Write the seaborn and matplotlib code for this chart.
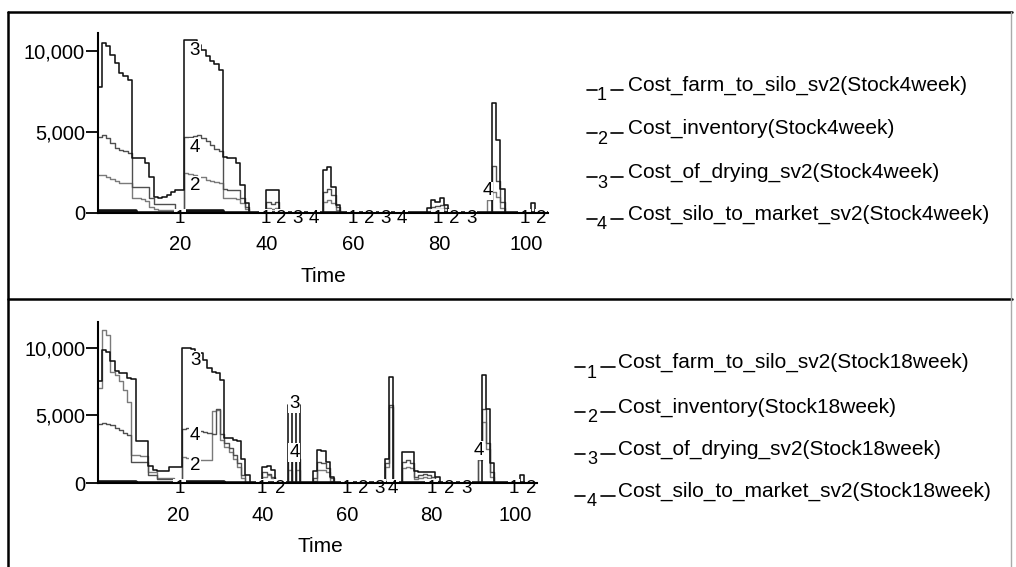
import numpy as np
import pandas as pd
import matplotlib
matplotlib.use("Agg")
import matplotlib.pyplot as plt
import seaborn as sns
from matplotlib.lines import Line2D
from matplotlib.ticker import FixedLocator, FixedFormatter

sns.set_theme(style="white")
plt.rcParams['font.family'] = ['Liberation Sans', 'DejaVu Sans']

# ---------------- data (weeks 1..105) ----------------
weeks = list(range(1, 106))

# Panel 1: Stock4week
top_farm_to_silo = [120, 120, 120, 120, 120, 120, 120, 120, 120, 0,
                    0, 0, 0, 0, 0, 0, 0, 0, 0, 0,
                    120, 120, 120, 120, 120, 120, 120, 120, 120, 0,
                    0, 0, 0, 0, 0, 0, 0, 0, 0, 0,
                    0, 0, 0, 0, 0, 0, 0, 0, 0, 0,
                    0, 0, 0, 0, 0, 0, 0, 0, 0, 0,
                    0, 0, 0, 0, 0, 0, 0, 0, 0, 0,
                    0, 0, 0, 0, 0, 0, 0, 0, 0, 0,
                    0, 0, 0, 0, 0, 0, 0, 0, 0, 0,
                    0, 0, 0, 0, 0, 0, 0, 0, 0, 0,
                    0, 0, 0, 0, 0]
top_inventory = [2350, 2350, 2250, 2100, 2000, 1850, 1830, 1830, 900, 900,
                 850, 750, 400, 250, 200, 200, 200, 200, 0, 0,
                 2450, 2400, 2350, 2250, 2200, 2050, 1950, 1900, 1850, 900,
                 900, 900, 850, 600, 250, 0, 0, 0, 0, 300,
                 250, 300, 0, 0, 0, 0, 0, 0, 0, 0,
                 0, 0, 700, 800, 600, 200, 0, 0, 0, 0,
                 0, 0, 0, 0, 0, 0, 0, 0, 0, 0,
                 0, 0, 0, 0, 0, 0, 0, 200, 250, 250,
                 150, 0, 0, 0, 0, 0, 0, 0, 0, 0,
                 800, 1300, 1000, 300, 0, 0, 0, 0, 0, 0,
                 0, 0, 0, 0, 0]
top_drying = [7800, 10500, 10300, 9750, 9240, 8620, 8420, 8200, 3400, 3400,
              3400, 3100, 2200, 1000, 900, 1000, 1100, 1300, 1400, 1400,
              10650, 10680, 10650, 10370, 10060, 9700, 9400, 9200, 8800, 3480,
              3400, 3380, 3070, 1700, 600, 0, 0, 0, 0, 1400,
              1400, 1400, 0, 0, 0, 0, 0, 0, 0, 0,
              0, 0, 2650, 2850, 1600, 500, 0, 0, 0, 0,
              0, 0, 0, 0, 0, 0, 0, 0, 0, 0,
              0, 0, 0, 0, 0, 0, 300, 800, 700, 900,
              500, 0, 0, 0, 0, 0, 0, 0, 0, 0,
              0, 6800, 4500, 1500, 0, 0, 0, 0, 0, 0,
              600, 0, 0, 0, 0]
top_silo_to_market = [4700, 4800, 4600, 4300, 4000, 3900, 3800, 3700, 1600, 1600,
                      1600, 1600, 900, 550, 550, 550, 550, 550, 0, 0,
                      4700, 4700, 4750, 4800, 4650, 4450, 4200, 3950, 3800, 1450,
                      1420, 1420, 1400, 900, 400, 0, 0, 0, 0, 650,
                      550, 650, 0, 0, 0, 0, 0, 0, 0, 0,
                      0, 0, 1300, 1500, 1100, 400, 0, 0, 0, 0,
                      0, 0, 0, 0, 0, 0, 0, 0, 0, 0,
                      0, 0, 0, 0, 0, 0, 0, 400, 450, 500,
                      300, 0, 0, 0, 0, 0, 0, 0, 0, 0,
                      0, 2900, 2000, 700, 0, 0, 0, 0, 0, 0,
                      0, 0, 0, 0, 0]

# Panel 2: Stock18week
bot_farm_to_silo = [100, 100, 100, 100, 100, 100, 100, 100, 100, 0,
                    0, 0, 0, 0, 0, 0, 0, 0, 0, 0,
                    100, 100, 100, 100, 100, 100, 100, 100, 100, 100,
                    0, 0, 0, 0, 0, 0, 0, 0, 0, 0,
                    0, 0, 0, 0, 0, 0, 0, 0, 0, 0,
                    0, 0, 0, 0, 0, 0, 0, 0, 0, 0,
                    0, 0, 0, 0, 0, 0, 0, 0, 0, 0,
                    0, 0, 0, 0, 0, 0, 0, 0, 0, 0,
                    0, 0, 0, 0, 0, 0, 0, 0, 0, 0,
                    0, 0, 0, 0, 0, 0, 0, 0, 0, 0,
                    0, 0, 0, 0, 0]
bot_inventory = [7000, 11300, 10900, 8200, 8000, 7500, 6900, 6000, 2100, 2100,
                 2000, 2000, 800, 800, 400, 400, 400, 400, 0, 0,
                 1900, 1850, 1800, 1800, 1750, 1700, 1750, 5300, 5400, 3200,
                 2700, 2300, 1800, 1200, 400, 0, 0, 0, 0, 500,
                 600, 400, 0, 0, 0, 1000, 0, 1000, 0, 0,
                 0, 200, 1000, 1000, 800, 200, 0, 0, 0, 0,
                 0, 0, 0, 0, 0, 0, 0, 0, 1200, 5600,
                 0, 0, 1100, 1200, 1100, 300, 400, 500, 400, 300,
                 100, 0, 0, 0, 0, 0, 0, 0, 0, 0,
                 1700, 4500, 2500, 500, 0, 0, 0, 0, 0, 0,
                 0, 0, 0, 0, 0]
bot_drying = [7500, 9800, 9700, 8970, 8300, 8110, 8110, 7740, 7700, 3100,
              3100, 3100, 1300, 1000, 900, 870, 870, 1230, 1230, 1230,
              9950, 9950, 9900, 9700, 9580, 9090, 8480, 8230, 8110, 7600,
              3300, 3300, 3200, 3100, 1800, 600, 0, 0, 0, 1200,
              1250, 1000, 0, 0, 0, 5800, 0, 5800, 0, 0,
              0, 900, 2450, 2400, 1600, 500, 0, 0, 0, 0,
              0, 0, 0, 0, 0, 0, 0, 0, 1800, 7800,
              0, 0, 2300, 2300, 2300, 900, 850, 850, 800, 800,
              500, 0, 0, 0, 0, 0, 0, 0, 0, 0,
              0, 8000, 5500, 1500, 0, 0, 0, 0, 0, 0,
              600, 0, 0, 0, 0]
bot_silo_to_market = [4400, 4420, 4400, 4300, 4100, 3900, 3700, 3560, 1600, 1600,
                      1600, 1600, 600, 600, 300, 300, 300, 300, 0, 0,
                      4000, 4050, 4000, 3950, 3850, 3750, 3700, 3650, 5500, 3600,
                      3000, 2600, 2100, 1500, 600, 0, 0, 0, 0, 800,
                      700, 500, 0, 0, 0, 1800, 0, 1800, 0, 0,
                      0, 400, 1600, 1500, 1100, 400, 0, 0, 0, 0,
                      0, 0, 0, 0, 0, 0, 0, 0, 1500, 5800,
                      0, 0, 1600, 1700, 1500, 500, 600, 650, 600, 500,
                      200, 0, 0, 0, 0, 0, 0, 0, 0, 0,
                      1900, 5500, 3000, 800, 0, 0, 0, 0, 0, 0,
                      0, 0, 0, 0, 0]

series_ids = ["1", "2", "3", "4"]
top_names = ["Cost_farm_to_silo_sv2(Stock4week)", "Cost_inventory(Stock4week)",
             "Cost_of_drying_sv2(Stock4week)", "Cost_silo_to_market_sv2(Stock4week)"]
bot_names = ["Cost_farm_to_silo_sv2(Stock18week)", "Cost_inventory(Stock18week)",
             "Cost_of_drying_sv2(Stock18week)", "Cost_silo_to_market_sv2(Stock18week)"]

xticks = [20, 40, 60, 80, 100]
yticks = [0, 5000, 10000]
ytick_labels = ["0", "5,000", "10,000"]

# series number labels drawn on the curves (week, value)
top_lab_ids = ["1", "2", "3", "4", "1", "2", "3", "4", "1", "2", "3", "4", "1", "2", "3", "4", "1", "2"]
top_lab_t = [20.0, 23.5, 23.5, 23.5, 39.8, 43.5, 47.2, 50.9, 60.0, 63.8, 67.4, 71.2, 79.5, 83.4, 87.3, 91.0, 99.6, 103.4]
top_lab_v = [0, 2040, 10370, 4400, 0, 0, 0, 0, 0, 0, 0, 0, 0, 0, 0, 1700, 0, 0]

bot_lab_ids = ["1", "2", "3", "4", "1", "2", "3", "4", "1", "2", "3", "4", "1", "2", "3", "4", "1", "2"]
bot_lab_t = [20.4, 24.1, 24.1, 24.1, 39.9, 44.2, 47.6, 47.6, 60.0, 63.9, 67.9, 71.0, 80.1, 84.4, 88.3, 91.4, 99.6, 103.7]
bot_lab_v = [0, 1720, 9460, 3930, 0, 0, 6265, 2650, 0, 0, 0, 0, 0, 0, 0, 2830, 0, 0]

# ---------------- styling ----------------
W, H = 1016, 567
colors = {"1": "#111111", "2": "#7a7a7a", "3": "#111111", "4": "#4f4f4f"}
widths = {"1": 2.6, "2": 1.0, "3": 1.15, "4": 1.0}
draw_order = ["2", "4", "3", "1"]

def fx(px):
    return px / W

def fy(py):
    return 1 - py / H

fig = plt.figure(figsize=(W / 100, H / 100), dpi=100)
fig.patch.set_facecolor("white")

panels = [
    dict(vals=[top_farm_to_silo, top_inventory, top_drying, top_silo_to_market], names=top_names,
         rect=(97.5, 33, 548.0, 213), ymax=11100, lab=(top_lab_ids, top_lab_t, top_lab_v),
         time_xy=(323, 277), leg_text_x=628, leg_rows=[85, 128, 172, 214], leg_dash=(587, 597, 602, 611, 623)),
    dict(vals=[bot_farm_to_silo, bot_inventory, bot_drying, bot_silo_to_market], names=bot_names,
         rect=(97.7, 321.7, 536.6, 483.3), ymax=11900, lab=(bot_lab_ids, bot_lab_t, bot_lab_v),
         time_xy=(320, 546), leg_text_x=618, leg_rows=[362, 407, 449, 491], leg_dash=(575, 585, 592, 601, 615)),
]

for p in panels:
    x0, y0, x1, y1 = p["rect"]
    ax = fig.add_axes([fx(x0), fy(y1), (x1 - x0) / W, (y1 - y0) / H])
    ax.set_facecolor("white")
    frames = []
    for sid, v in zip(series_ids, p["vals"]):
        frames.append(pd.DataFrame({"week": weeks, "cost": v, "series": sid}))
    df = pd.concat(frames, ignore_index=True)
    for sid in draw_order:
        sns.lineplot(data=df[df["series"] == sid], x="week", y="cost", ax=ax,
                     color=colors[sid], linewidth=widths[sid], drawstyle="steps-post",
                     estimator=None, legend=False, zorder=2)
    ax.set_xlim(1, 105)
    ax.set_ylim(0, p["ymax"])
    for s in ["top", "right"]:
        ax.spines[s].set_visible(False)
    for s in ["left", "bottom"]:
        ax.spines[s].set_color("black")
        ax.spines[s].set_linewidth(1.5)
        ax.spines[s].set_zorder(3)
    ax.xaxis.set_major_locator(FixedLocator(xticks))
    ax.yaxis.set_major_locator(FixedLocator(yticks))
    ax.yaxis.set_major_formatter(FixedFormatter(ytick_labels))
    ax.tick_params(axis="x", length=0, pad=16, labelsize=14.5, colors="black")
    ax.tick_params(axis="y", length=9, width=1.3, direction="out", pad=0, labelsize=14.5,
                   colors="black", left=True)
    ax.set_xlabel("")
    ax.set_ylabel("")
    ax.grid(False)
    ids, ts, vs = p["lab"]
    for sid, t, v in zip(ids, ts, vs):
        ax.annotate(sid, xy=(t, v), xytext=(0, -4), textcoords="offset points",
                    ha="center", va="center", fontsize=13.5, color="black", zorder=2.4,
                    annotation_clip=False,
                    bbox=dict(boxstyle="square,pad=0.05", fc="white", ec="none"))
    # axis title
    fig.text(fx(p["time_xy"][0]), fy(p["time_xy"][1]), "Time", ha="center", va="center",
             fontsize=15, color="black")
    # legend
    a, b, c, d, e = p["leg_dash"]
    for sid, name, ry in zip(series_ids, p["names"], p["leg_rows"]):
        fig.add_artist(Line2D([fx(a), fx(b)], [fy(ry + 5), fy(ry + 5)], color="black", lw=1.2,
                              transform=fig.transFigure))
        fig.add_artist(Line2D([fx(d), fx(e)], [fy(ry + 5), fy(ry + 5)], color="black", lw=1.2,
                              transform=fig.transFigure))
        fig.text(fx(c), fy(ry + 11), sid, ha="center", va="center", fontsize=13, color="black")
        fig.text(fx(p["leg_text_x"]), fy(ry), name, ha="left", va="center", fontsize=15,
                 color="black")

# outer frame and divider
for xs, ys, col, lw in [((8, 1012), (12, 12), "black", 1.8),
                        ((8, 8), (12, 567), "black", 1.8),
                        ((8, 1012), (299, 299), "black", 1.8),
                        ((1011, 1011), (12, 567), "#aaaaaa", 1.0)]:
    fig.add_artist(Line2D([fx(xs[0]), fx(xs[1])], [fy(ys[0]), fy(ys[1])], color=col, lw=lw,
                          transform=fig.transFigure))

fig.savefig("out.png", dpi=100, facecolor="white")
